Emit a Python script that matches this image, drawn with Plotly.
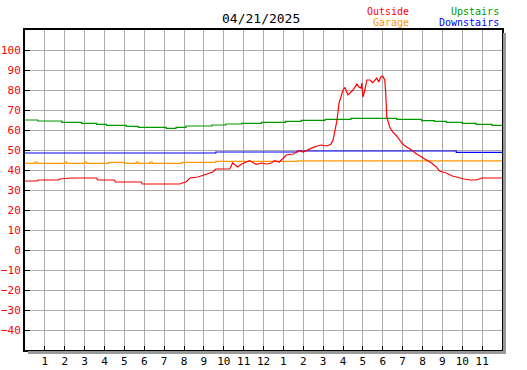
import plotly.graph_objects as go

# ---- data ----
outside_h = [0, 0.6, 0.65, 1.7, 1.75, 2.3, 3.0, 3.6, 3.65, 4.5, 4.55, 5.85, 5.9, 7.0, 7.8, 7.9, 8.1, 8.3, 8.7,
             9.0, 9.2, 9.45, 9.6, 10.3, 10.45, 10.6, 10.7, 10.9, 11.3, 11.5, 11.65, 11.9, 12.15, 12.4, 12.55,
             12.8, 13.0, 13.15, 13.5, 13.8, 14.0, 14.2, 14.5, 14.7, 14.9, 15.2, 15.4, 15.5, 15.6, 15.7, 15.8,
             15.9, 16.0, 16.1, 16.25, 16.4, 16.5, 16.7, 16.8, 16.9, 16.95, 17.0, 17.1, 17.2, 17.35, 17.5, 17.6,
             17.7, 17.8, 17.9, 18.0, 18.1, 18.15, 18.2, 18.35, 18.5, 18.7, 18.85, 19.0, 19.2, 19.45, 19.7,
             19.95, 20.2, 20.45, 20.7, 20.85, 21.0, 21.2, 21.5, 21.85, 22.1, 22.4, 22.7, 23.0, 23.5, 24.0]
outside_v = [34.5, 34.5, 35, 35, 35.5, 36, 36, 36, 35, 35, 34, 34, 33, 33, 33, 33.5, 34, 36, 36.5,
             37.5, 38, 39, 40.5, 40.5, 43.5, 42.5, 41.5, 43, 44.7, 43.5, 42.8, 43.5, 43, 43.5, 44.7,
             44, 46, 47.5, 48, 49.7, 49, 50, 51.3, 52, 52.5, 52, 53, 55, 60, 65, 73.5,
             77, 80, 81.3, 77.5, 79, 80, 83, 81.5, 81, 83.5, 76.5, 80, 85, 85, 83.7, 85,
             86, 84, 86.5, 87, 85, 78.5, 66.5, 61.5, 59, 57, 55, 53, 51.5, 50, 48,
             46.5, 45, 43.5, 41.5, 39.5, 39, 38.5, 37, 36, 35.5, 35, 35, 36, 36, 36]

garage_h = [0, 0.5, 0.6, 2.0, 2.1, 3.0, 3.1, 4.2, 5.0, 5.6, 5.7, 6.3, 6.4, 7.9, 9.6, 13.7, 24.0]
garage_v = [43.3, 44.0, 43.3, 44.0, 43.3, 44.0, 43.3, 43.8, 43.3, 44.0, 43.3, 44.0, 43.3, 43.8, 44.3, 44.6, 44.6]

upstairs_h = [0, 0.65, 1.85, 2.85, 3.6, 4.1, 5.1, 5.7, 7.1, 7.6, 8.1, 9.4, 10.1, 10.9, 11.9, 13.1, 13.9,
              15.1, 16.4, 18.7, 19.95, 20.6, 21.2, 22.0, 22.7, 23.5, 24.0]
upstairs_v = [65, 64.5, 63.8, 63.3, 62.8, 62.3, 61.8, 61.3, 60.8, 61.3, 62, 62.5, 63, 63.3, 63.8, 64.3, 64.8,
              65.3, 65.8, 65.3, 64.7, 64.3, 63.8, 63.3, 62.8, 62.3, 62.3]

downstairs_h = [0, 9.6, 13.7, 21.7, 24.0]
downstairs_v = [48.5, 49.0, 49.5, 48.8, 48.8]

title_text = "04/21/2025"
x_tick_vals = list(range(1, 24))
x_tick_text = [str(h) for h in range(1, 13)] + [str(h) for h in range(1, 12)]
y_tick_vals = list(range(-40, 101, 10))

MONO = "DejaVu Sans Mono"

fig = go.Figure()
series = [
    ("Garage", garage_h, garage_v, "#ff9900", "hv"),
    ("Downstairs", downstairs_h, downstairs_v, "#0000ff", "hv"),
    ("Upstairs", upstairs_h, upstairs_v, "#009900", "hv"),
    ("Outside", outside_h, outside_v, "#ff0000", "linear"),
]
for name, xs, ys, col, shp in series:
    fig.add_trace(go.Scatter(x=xs, y=ys, mode="lines", name=name,
                             line=dict(color=col, width=1.2, shape=shp), hoverinfo="skip"))

W, H = 527, 370
ml, mr, mt, mb = 25, 25, 30, 20
pw, ph = W - ml - mr, H - mt - mb

fig.update_layout(
    width=W, height=H,
    margin=dict(l=ml, r=mr, t=mt, b=mb, pad=0, autoexpand=False),
    paper_bgcolor="white", plot_bgcolor="white",
    showlegend=False,
    font=dict(family=MONO, size=10, color="black"),
    xaxis=dict(range=[0, 24], tickvals=x_tick_vals, ticktext=x_tick_text, automargin=False,
               showgrid=True, gridcolor="#aaaaaa", gridwidth=1,
               ticks="inside", ticklen=4, tickcolor="black", tickwidth=1,
               showline=True, linecolor="black", linewidth=2, mirror=True,
               zeroline=False, tickfont=dict(family=MONO, size=11, color="black")),
    yaxis=dict(range=[-50, 110], tickvals=y_tick_vals, automargin=False,
               showgrid=True, gridcolor="#aaaaaa", gridwidth=1,
               ticks="inside", ticklen=5, tickcolor="black", tickwidth=1,
               showline=True, linecolor="black", linewidth=2, mirror=True,
               zeroline=False, tickfont=dict(family=MONO, size=11, color="#ff0000")),
)

# drop shadow right and bottom
sx, sy = 3 / pw, 3 / ph
fig.add_shape(type="line", xref="paper", yref="paper", x0=1 + 2.5 / pw, x1=1 + 2.5 / pw,
              y0=-4 / ph, y1=1 - sy, line=dict(color="#999999", width=3))
fig.add_shape(type="line", xref="paper", yref="paper", x0=sx, x1=1 + 4 / pw,
              y0=-2.5 / ph, y1=-2.5 / ph, line=dict(color="#999999", width=3))

def ann(text, x, y, color, size, anchor):
    fig.add_annotation(text=text, xref="paper", yref="paper",
                       x=(x - ml) / pw, y=1 - (y - mt) / ph,
                       xanchor=anchor, yanchor="middle", showarrow=False,
                       font=dict(family=MONO, size=size, color=color))

ann(title_text, 261, 19, "black", 13, "center")
ann("Outside", 411, 11, "#ff0000", 10, "right")
ann("Garage", 411, 23, "#ff9900", 10, "right")
ann("Upstairs", 501, 11, "#009900", 10, "right")
ann("Downstairs", 501, 23, "#0000ff", 10, "right")

fig.write_html("out.html", config={"displayModeBar": False},
               post_script="document.body.style.margin='0';document.body.style.overflow='hidden';")
